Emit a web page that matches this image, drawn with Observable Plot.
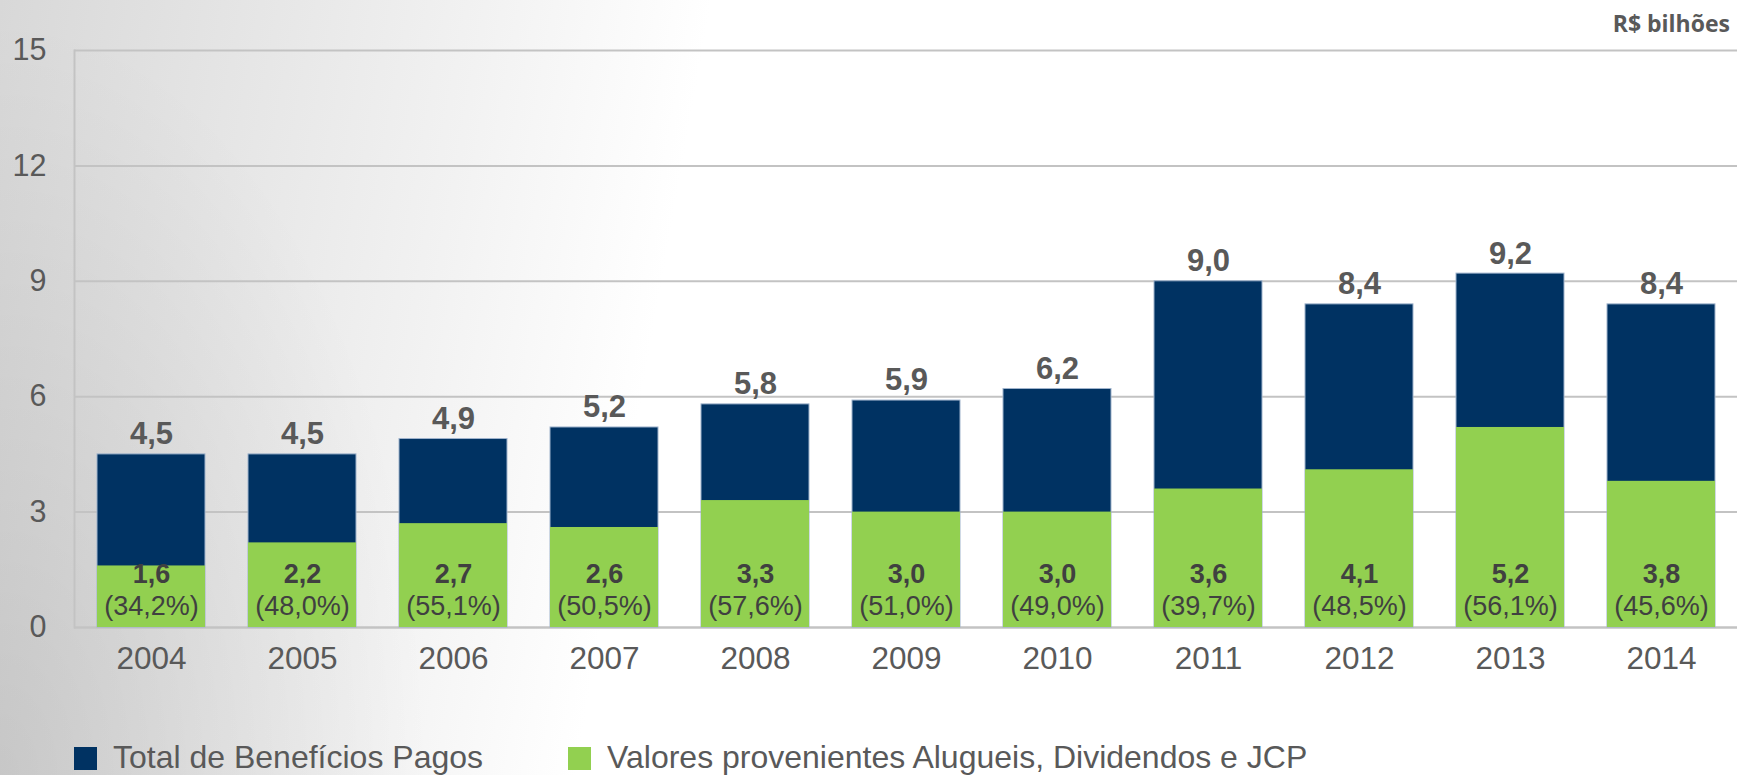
<!DOCTYPE html>
<html>
<head>
<meta charset="utf-8">
<script src="https://cdn.jsdelivr.net/npm/d3@7"></script>
<script src="https://cdn.jsdelivr.net/npm/@observablehq/plot@0.6"></script>
<style>
  html, body { margin: 0; padding: 0; }
  body {
    width: 1737px; height: 775px; overflow: hidden; position: relative;
    font-family: "Liberation Sans", Arial, sans-serif;
    background:
      radial-gradient(ellipse 430px 760px at 0% 100%, rgba(0,0,0,0.11), rgba(0,0,0,0) 100%),
      linear-gradient(100deg, #d8d8d8 0%, #e5e5e5 13%, #f2f2f2 26%, #ffffff 38%, #ffffff 100%);
  }
  #chart { position: absolute; left: 0; top: 0; }
  #unit {
    position: absolute; right: 7px; top: 12px; line-height: 23px;
    font-family: "Open Sans", sans-serif; font-weight: bold; font-size: 23px; color: #595959;
  }
  .leg { position: absolute; top: 741px; height: 32px; line-height: 32px; font-size: 32px; color: #595959; white-space: nowrap; }
  .leg .sw { position: absolute; top: 6px; width: 23px; height: 23px; }
  .leg .tx { position: absolute; top: 0; }
</style>
</head>
<body>
<div id="chart"></div>
<div id="unit">R$ bilhões</div>
<div id="legend"></div>
<script>
const years = ["2004","2005","2006","2007","2008","2009","2010","2011","2012","2013","2014"];
const totalPaid = [4.5, 4.5, 4.9, 5.2, 5.8, 5.9, 6.2, 9.0, 8.4, 9.2, 8.4];
const rentsDividends = [1.6, 2.2, 2.7, 2.6, 3.3, 3.0, 3.0, 3.6, 4.1, 5.2, 3.8];
const sharePct = [34.2, 48.0, 55.1, 50.5, 57.6, 51.0, 49.0, 39.7, 48.5, 56.1, 45.6];
const yTicks = [0, 3, 6, 9, 12, 15];
const legendLabels = ["Total de Benefícios Pagos", "Valores provenientes Alugueis, Dividendos e JCP"];
const colors = ["#003262", "#92d050"];

const data = years.map((y, i) => ({year: y, total: totalPaid[i], part: rentsDividends[i], pct: sharePct[i]}));
const f1 = v => d3.format(".1f")(v).replace(".", ",");

const chart = Plot.plot({
  width: 1737,
  height: 700,
  marginTop: 50,
  marginLeft: 74,
  marginRight: 0,
  marginBottom: 73,
  style: {background: "transparent", fontFamily: "'Liberation Sans', Arial, sans-serif", fontSize: "30px", color: "#595959"},
  x: {domain: years, paddingInner: 0.285, paddingOuter: 0.1425, label: null},
  y: {domain: [0, 15], label: null},
  marks: [
    Plot.gridY(yTicks, {stroke: "#c3c3c3", strokeOpacity: 1, strokeWidth: 2}),
    Plot.ruleY([0], {stroke: "#c3c3c3", strokeWidth: 2}),
    Plot.frame({anchor: "left", stroke: "#c3c3c3", strokeWidth: 2}),
    Plot.axisY(yTicks, {tickSize: 0, tickPadding: 28, label: null, fontSize: 30.5, fill: "#595959"}),
    Plot.axisX({tickSize: 0, tickPadding: 19, label: null, fontSize: 31.5, fill: "#595959"}),
    Plot.barY(data, {x: "year", y: "total", fill: colors[0], stroke: "#9fb3cc", strokeWidth: 1}),
    Plot.barY(data, {x: "year", y: "part", fill: colors[1]}),
    Plot.text(data, {x: "year", y: "total", text: d => f1(d.total), dy: -20, fontSize: 31, fontWeight: "bold", fill: "#595959"}),
    Plot.text(data, {x: "year", y: 0, text: d => f1(d.part), dy: -53, fontSize: 27, fontWeight: "bold", fill: "#404040"}),
    Plot.text(data, {x: "year", y: 0, text: d => "(" + f1(d.pct) + "%)", dy: -21, fontSize: 27, fill: "#404040"})
  ]
});
document.getElementById("chart").appendChild(chart);

const legendPos = [74, 568];
const leg = document.getElementById("legend");
legendLabels.forEach((label, i) => {
  const item = document.createElement("div");
  item.className = "leg";
  item.style.left = legendPos[i] + "px";
  item.innerHTML = `<span class="sw" style="left:0;background:${colors[i]}"></span><span class="tx" style="left:39px">${label}</span>`;
  leg.appendChild(item);
});
</script>
</body>
</html>
